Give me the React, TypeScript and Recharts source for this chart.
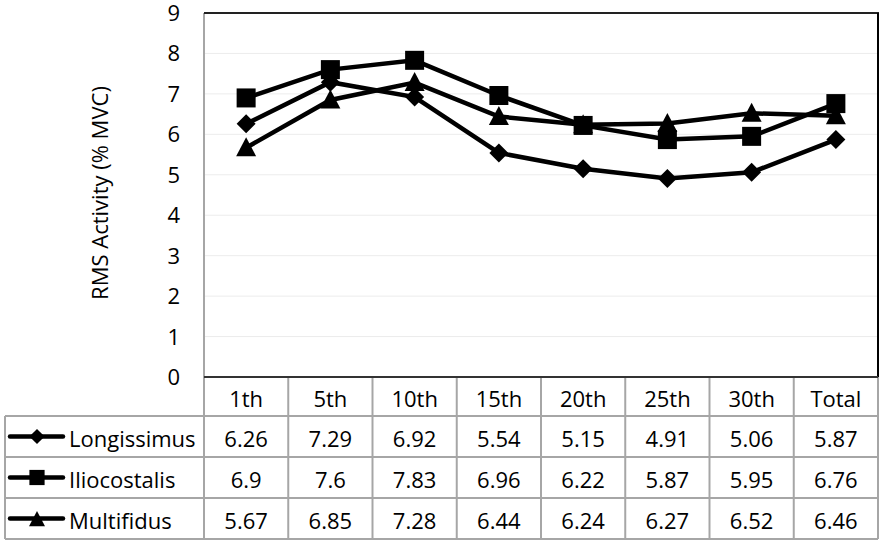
import React from "react";
import { LineChart, Line, XAxis, YAxis, CartesianGrid } from "recharts";

const categories = ["1th", "5th", "10th", "15th", "20th", "25th", "30th", "Total"];
const longissimus = [6.26, 7.29, 6.92, 5.54, 5.15, 4.91, 5.06, 5.87];
const iliocostalis = [6.9, 7.6, 7.83, 6.96, 6.22, 5.87, 5.95, 6.76];
const multifidus = [5.67, 6.85, 7.28, 6.44, 6.24, 6.27, 6.52, 6.46];
const yTicks = [0, 1, 2, 3, 4, 5, 6, 7, 8, 9];
const seriesNames = ["Longissimus", "Iliocostalis", "Multifidus"];
const seriesValues = [longissimus, iliocostalis, multifidus];
const yLabel = "RMS Activity (% MVC)";

const data = categories.map((c, i) => ({
  cat: c,
  Longissimus: longissimus[i],
  Iliocostalis: iliocostalis[i],
  Multifidus: multifidus[i],
}));

const FONT = "'Open Sans', sans-serif";
const W = 891;
const H = 549;
const PL = 204;
const PR = 878;
const PT = 13;
const PB = 377;
const HEAD_BOTTOM = 416;
const ROW_H = 41;
const TABLE_LEFT = 5;
const GRID_C = "#a6a6a6";

type MarkerKind = "diamond" | "square" | "triangle";
const kinds: MarkerKind[] = ["diamond", "square", "triangle"];

function marker(kind: MarkerKind, x: number, y: number, s: number, key?: string) {
  if (kind === "diamond") {
    const r = 9.5 * s;
    return <polygon key={key} points={`${x},${y - r} ${x + r},${y} ${x},${y + r} ${x - r},${y}`} fill="#000" />;
  }
  if (kind === "square") {
    const r = 9.5 * s;
    return <rect key={key} x={x - r} y={y - r} width={2 * r} height={2 * r} fill="#000" />;
  }
  const r = 10 * s;
  return (
    <polygon key={key} points={`${x},${y - r * 1.05} ${x + r},${y + r * 0.85} ${x - r},${y + r * 0.85}`} fill="#000" />
  );
}

const makeDot = (kind: MarkerKind) => (props: any) => {
  const { cx, cy, index } = props;
  if (cx == null || cy == null) return <g key={`n${index}`} />;
  return marker(kind, cx, cy, 1, `${kind}-${index}`);
};

const YTick = (props: any) => {
  const { x, y, payload } = props;
  return (
    <text x={x} y={y + 8} textAnchor="end" fontFamily={FONT} fontSize={22} fill="#000">
      {payload.value}
    </text>
  );
};

function Overlay() {
  const cw = (PR - PL) / categories.length;
  const lines: React.ReactNode[] = [];
  const rowsBottom = HEAD_BOTTOM + ROW_H * seriesNames.length;
  for (let r = 0; r <= seriesNames.length; r++) {
    const y = HEAD_BOTTOM + r * ROW_H;
    lines.push(<line key={`h${r}`} x1={TABLE_LEFT} x2={PR} y1={y} y2={y} stroke={GRID_C} strokeWidth={2} />);
  }
  for (let k = 1; k <= categories.length; k++) {
    const x = PL + k * cw;
    lines.push(<line key={`v${k}`} x1={x} x2={x} y1={PB} y2={rowsBottom} stroke={GRID_C} strokeWidth={2} />);
  }
  lines.push(<line key="vl" x1={TABLE_LEFT} x2={TABLE_LEFT} y1={HEAD_BOTTOM} y2={rowsBottom} stroke={GRID_C} strokeWidth={2} />);
  lines.push(<line key="v0" x1={PL} x2={PL} y1={PT} y2={rowsBottom} stroke={GRID_C} strokeWidth={2} />);

  return (
    <svg width={W} height={H} style={{ position: "absolute", left: 0, top: 0, pointerEvents: "none" }}>
      {lines}
      <line x1={PL} x2={PR + 1} y1={PT} y2={PT} stroke="#222" strokeWidth={2} />
      <line x1={PR} x2={PR} y1={PT} y2={PB} stroke="#000" strokeWidth={2} />
      <line x1={PL} x2={PR} y1={PB} y2={PB} stroke="#333" strokeWidth={2} />
      {categories.map((c, i) => (
        <text key={`c${i}`} x={PL + cw * (i + 0.5)} y={(PB + HEAD_BOTTOM) / 2 + 1} textAnchor="middle" dominantBaseline="central" fontFamily={FONT} fontSize={22} fill="#000">
          {c}
        </text>
      ))}
      {seriesNames.map((n, r) => {
        const cy = HEAD_BOTTOM + ROW_H * (r + 0.5);
        return (
          <g key={`r${r}`}>
            <line x1={10} x2={63} y1={cy} y2={cy} stroke="#000" strokeWidth={4.5} strokeLinecap="round" />
            {marker(kinds[r], 37, cy + (kinds[r] === "triangle" ? 1 : 0), 0.8)}
            <text x={69} y={cy + 1} dominantBaseline="central" fontFamily={FONT} fontSize={22} fill="#000">
              {n}
            </text>
            {seriesValues[r].map((v, i) => (
              <text key={i} x={PL + cw * (i + 0.5)} y={cy + 1} textAnchor="middle" dominantBaseline="central" fontFamily={FONT} fontSize={22} fill="#000">
                {String(v)}
              </text>
            ))}
          </g>
        );
      })}
      <text x={99} y={(PT + PB) / 2 - 2} transform={`rotate(-90 99 ${(PT + PB) / 2 - 2})`} textAnchor="middle" dominantBaseline="central" fontFamily={FONT} fontSize={22} fill="#000">
        {yLabel}
      </text>
    </svg>
  );
}

export default function App() {
  return (
    <div style={{ position: "absolute", left: 0, top: 0, width: W, height: H, background: "#fff" }}>
      <LineChart width={W} height={H} data={data} margin={{ top: PT, right: W - PR, bottom: H - PB, left: PL - 60 }}>
        <CartesianGrid vertical={false} horizontal stroke="#ececec" strokeWidth={1} />
        <XAxis dataKey="cat" hide scale="band" type="category" />
        <YAxis
          width={60}
          domain={[0, 9]}
          ticks={yTicks}
          interval={0}
          axisLine={false}
          tickLine={false}
          tickMargin={18}
          tick={<YTick />}
        />
        <Line dataKey="Longissimus" type="linear" stroke="#000" strokeWidth={4.5} dot={makeDot("diamond")} isAnimationActive={false} />
        <Line dataKey="Iliocostalis" type="linear" stroke="#000" strokeWidth={4.5} dot={makeDot("square")} isAnimationActive={false} />
        <Line dataKey="Multifidus" type="linear" stroke="#000" strokeWidth={4.5} dot={makeDot("triangle")} isAnimationActive={false} />
      </LineChart>
      <Overlay />
    </div>
  );
}
